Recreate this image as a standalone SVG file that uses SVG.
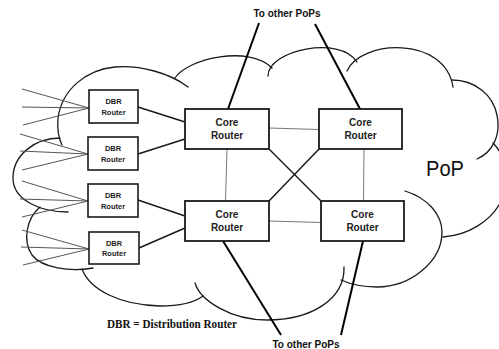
<svg xmlns="http://www.w3.org/2000/svg" width="499" height="349" viewBox="0 0 499 349">
  <style>
    .cloud { fill: none; stroke: #1a1a1a; stroke-width: 1.3; stroke-linecap: round; }
    .core rect { fill: #fff; stroke: #1a1a1a; stroke-width: 1.8; }
    .dbr rect { fill: #fff; stroke: #1a1a1a; stroke-width: 1.6; }
    .core text { font-family: "Liberation Sans", Arial, sans-serif; font-weight: bold; font-size: 10px; fill: #222; text-anchor: middle; }
    .dbr text { font-family: "Liberation Sans", Arial, sans-serif; font-weight: bold; font-size: 7.5px; fill: #222; text-anchor: middle; }
    .fan { stroke: #555; stroke-width: 1; fill: none; }
    .mesh { stroke: #777; stroke-width: 1; fill: none; }
    .link { stroke: #1a1a1a; stroke-width: 1.5; fill: none; }
    .uplink { stroke: #000; stroke-width: 2; fill: none; }
    .label { font-family: "Liberation Sans", Arial, sans-serif; font-weight: bold; font-size: 10px; fill: #111; text-anchor: middle; }
  </style>

  <rect width="499" height="349" fill="#fff"/>

  <!-- PoP cloud outline, one arc per lobe -->
  <g id="cloud" class="cloud">
    <path d="M188,87 C170,73 140,65 115,67 C85,70 62,90 58,118 C57,130 59,139 62,145"/>
    <path d="M175,78 C188,58 250,45 272,68"/>
    <path d="M268,76 C268,50 340,35 357,62"/>
    <path d="M347,71 C360,40 445,35 453,87"/>
    <path d="M452,80 C475,80 493,95 497,115 C501,135 493,152 477,159"/>
    <path d="M493,143 C505,155 515,185 499,205 C490,220 470,235 443,237"/>
    <path d="M405,191 C428,198 442,215 442,232 C442,262 410,287 377,287 C362,287 350,284 341,280"/>
    <path d="M195,283 C200,300 230,320 267,320 C310,320 345,300 344,267"/>
    <path d="M82,269 C90,290 120,305 160,306 C180,306 195,302 203,296"/>
    <path d="M40,207 C27,218 22,240 32,255 C42,268 70,272 93,268"/>
    <path d="M60,138 C35,138 13,155 13,178 C13,200 40,212 68,212"/>
  </g>

  <!-- connectors -->
  <g id="connectors">
    <!-- access links fanning into the distribution routers -->
    <g class="fan">
      <path d="M22,89 L89,108 M22,107 L89,108 M23,125 L89,108"/>
      <path d="M20,134 L88,154 M20,151 L88,154 M22,170 L88,154"/>
      <path d="M22,181 L88,201 M20,199 L88,201 M22,217 L88,201"/>
      <path d="M22,230 L89,249 M21,247 L89,249 M23,265 L89,249"/>
    </g>
    <!-- distribution to core -->
    <g class="link">
      <path d="M138,107 L185,122"/>
      <path d="M138,154 L185,139"/>
      <path d="M138,200 L185,216"/>
      <path d="M139,248 L185,228"/>
    </g>
    <!-- core mesh -->
    <g class="mesh">
      <path d="M269,128 L319,129.5"/>
      <path d="M269,221 L322,222.5"/>
      <path d="M227,149 L225.5,201"/>
      <path d="M364,149 L363.5,201"/>
    </g>
    <g class="link">
      <path d="M269,149 L321,201"/>
      <path d="M319,149 L269,201"/>
    </g>
    <!-- links to other PoPs -->
    <g class="uplink">
      <path d="M259,23 L228,109"/>
      <path d="M315,24 L360,109"/>
      <path d="M223,241 L281,335"/>
      <path d="M363,241 L341,335"/>
    </g>
  </g>

  <!-- core routers -->
  <g id="core1" class="core">
    <rect x="185" y="109" width="84" height="40"/>
    <text x="227" y="126">Core</text>
    <text x="227" y="139">Router</text>
  </g>
  <g id="core2" class="core">
    <rect x="319" y="109" width="83" height="40"/>
    <text x="360.5" y="126">Core</text>
    <text x="360.5" y="139">Router</text>
  </g>
  <g id="core3" class="core">
    <rect x="185" y="201" width="84" height="40"/>
    <text x="227" y="218">Core</text>
    <text x="227" y="231">Router</text>
  </g>
  <g id="core4" class="core">
    <rect x="321" y="201" width="83" height="40"/>
    <text x="362.5" y="218">Core</text>
    <text x="362.5" y="231">Router</text>
  </g>

  <!-- distribution routers -->
  <g id="dbr1" class="dbr">
    <rect x="89" y="90" width="49" height="33"/>
    <text x="113.5" y="104">DBR</text>
    <text x="113.5" y="114.5">Router</text>
  </g>
  <g id="dbr2" class="dbr">
    <rect x="88" y="137" width="50" height="33"/>
    <text x="113" y="151">DBR</text>
    <text x="113" y="161.5">Router</text>
  </g>
  <g id="dbr3" class="dbr">
    <rect x="88" y="184" width="50" height="33"/>
    <text x="113" y="198">DBR</text>
    <text x="113" y="208.5">Router</text>
  </g>
  <g id="dbr4" class="dbr">
    <rect x="89" y="232" width="50" height="32"/>
    <text x="114" y="245.5">DBR</text>
    <text x="114" y="256">Router</text>
  </g>

  <!-- labels -->
  <g id="labels">
    <text class="label" x="287" y="16.5">To other PoPs</text>
    <text class="label" x="306" y="347.5">To other PoPs</text>
    <text x="426" y="176" font-family="'Liberation Sans', Arial, sans-serif" font-size="22" fill="#111" textLength="38" lengthAdjust="spacingAndGlyphs">PoP</text>
    <text x="107" y="328" font-family="'Liberation Serif', 'Times New Roman', serif" font-weight="bold" font-size="12" fill="#111" textLength="130" lengthAdjust="spacingAndGlyphs">DBR = Distribution Router</text>
  </g>
</svg>
